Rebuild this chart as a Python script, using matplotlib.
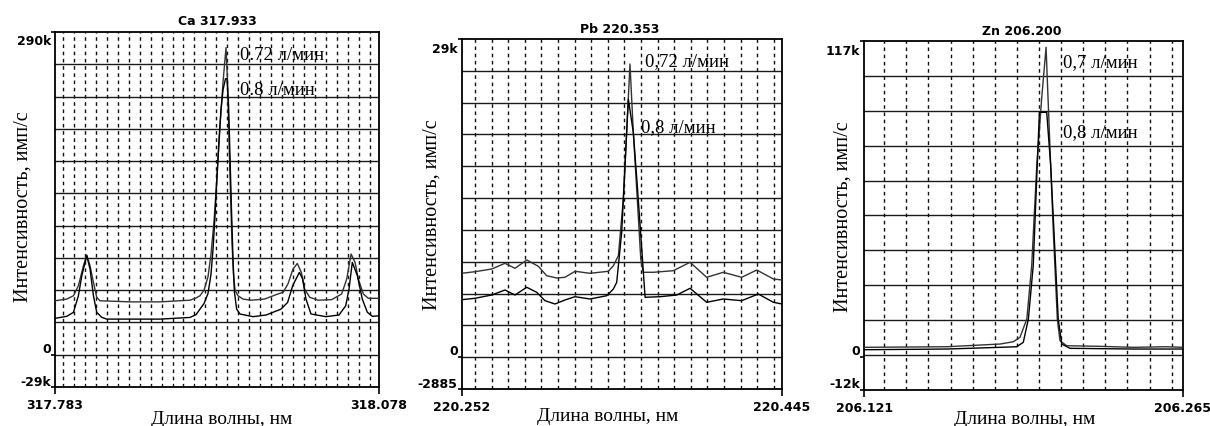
import numpy as np
import matplotlib
matplotlib.use("Agg")
import matplotlib.pyplot as plt
from matplotlib.transforms import offset_copy

# ---------------- data ----------------
# Ca 317.933
ca_wl_072 = [317.783, 317.7937, 317.7998, 317.8043, 317.8089, 317.8119, 317.8149, 317.8180, 317.8210,
             317.8240, 317.8513, 317.8786, 317.9059, 317.9114, 317.9150, 317.9187, 317.9223, 317.9250,
             317.9278, 317.9305, 317.9332, 317.9360, 317.9387, 317.9401, 317.9414, 317.9428, 317.9442,
             317.9455, 317.9469, 317.9496, 317.9542, 317.9614, 317.9737, 317.9860, 317.9906, 317.9951,
             317.9997, 318.0036, 318.0073, 318.0103, 318.0149, 318.0227, 318.0349, 318.0440, 318.0486,
             318.0526, 318.0562, 318.0592, 318.0637, 318.0683, 318.0758, 318.078]
ca_int_072 = [48500, 50000, 53000, 62000, 80000, 89600, 80000, 65000, 51600,
              48500, 47500, 47500, 49000, 51000, 53000, 58000, 70000, 90000,
              120000, 160000, 205000, 245000, 276000, 245000, 195000, 145000, 100000,
              72000, 58000, 53000, 50000, 49000, 50000, 54600, 56000, 63600,
              77000, 82000, 74000, 59000, 51600, 49000, 49500, 54600, 68000,
              90500, 83000, 68000, 54600, 50700, 50700, 50700]

ca_wl_08 = [317.783, 317.7937, 317.7998, 317.8043, 317.8074, 317.8119, 317.8149, 317.8180, 317.8210,
            317.8256, 317.8301, 317.8513, 317.8786, 317.9059, 317.9114, 317.9150, 317.9187, 317.9223,
            317.9250, 317.9269, 317.9287, 317.9305, 317.9323, 317.9341, 317.9360, 317.9382, 317.9396,
            317.9410, 317.9423, 317.9437, 317.9451, 317.9464, 317.9484, 317.9514, 317.9633, 317.9753,
            317.9888, 317.9948, 317.9994, 318.0055, 318.0085, 318.0115, 318.0161, 318.0297, 318.0416,
            318.0477, 318.0507, 318.0537, 318.0583, 318.0628, 318.0674, 318.0720, 318.078]
ca_int_08 = [32700, 34500, 38100, 53000, 71000, 89000, 77000, 53000, 38100,
             33600, 32000, 32000, 32000, 33500, 36000, 41000, 46000, 55000,
             72000, 95000, 125000, 160000, 192000, 220000, 238000, 248000, 248000,
             225000, 180000, 130000, 85000, 56000, 41000, 36600, 34200, 35700,
             41000, 47000, 62000, 74000, 68000, 50000, 36600, 34200, 35700,
             44000, 59000, 83000, 71000, 50000, 38100, 34500, 35000]

# Pb 220.353
pb_wl_072 = [220.252, 220.2600, 220.2701, 220.2781, 220.2841, 220.2912, 220.2982, 220.3032, 220.3092,
             220.3142, 220.3203, 220.3293, 220.3403, 220.3434, 220.3464, 220.3494, 220.3514, 220.3534,
             220.3554, 220.3578, 220.3599, 220.3614, 220.3675, 220.3795, 220.3896, 220.3996, 220.4096,
             220.4207, 220.4298, 220.4398, 220.445]
pb_int_072 = [7606, 7751, 7996, 8513, 8059, 8812, 8240, 7388, 7180,
              7243, 7787, 7606, 7787, 8295, 9202, 14343, 20418, 26583,
              20418, 14343, 8903, 7697, 7697, 7842, 8603, 7243, 7697,
              7243, 7905, 7089, 6999]

pb_wl_08 = [220.252, 220.2600, 220.2701, 220.2781, 220.2841, 220.2912, 220.2972, 220.3022, 220.3082,
            220.3142, 220.3203, 220.3293, 220.3394, 220.3434, 220.3454, 220.3484, 220.3504, 220.3524,
            220.3554, 220.3578, 220.3605, 220.3625, 220.3715, 220.3816, 220.3896, 220.3996, 220.4096,
            220.4207, 220.4307, 220.4398, 220.445]
pb_int_08 = [5212, 5339, 5638, 6092, 5638, 6337, 5883, 5122, 4822,
             5185, 5484, 5276, 5575, 6182, 6790, 11323, 17362, 23410,
             20390, 15549, 9809, 5430, 5484, 5638, 6246, 4977, 5276,
             5122, 5729, 4977, 4822]

# Zn 206.200
zn_wl_07 = [206.121, 206.1583, 206.1673, 206.1824, 206.1884, 206.1914, 206.1945, 206.1967, 206.1990,
            206.2012, 206.2032, 206.2047, 206.2065, 206.2083, 206.2095, 206.2125, 206.2274, 206.2427,
            206.2578, 206.265]
zn_int_07 = [3690, 3910, 4280, 4910, 5760, 7390, 14170, 33900, 70930,
             95630, 114780, 83300, 46270, 14170, 6130, 4280, 4060, 3690,
             3910, 3690]

zn_wl_08 = [206.121, 206.1583, 206.1824, 206.1899, 206.1929, 206.1952, 206.1974, 206.1992, 206.2002,
            206.2035, 206.2053, 206.2068, 206.2087, 206.2103, 206.2140, 206.2427, 206.265]
zn_int_08 = [2800, 3060, 3690, 3910, 5540, 14170, 33900, 70930, 90710,
             90710, 70930, 46270, 14170, 4910, 3320, 3060, 3060]

panels = [
    dict(title="Ca 317.933", xlim=(317.783, 318.078), ylim=(-29000, 290000), nrows=11,
         xgrid_start=317.79, xgrid_stop=318.07,
         xticklabels=["317.783", "318.078"], yticklabels=["-29k", "0", "290k"],
         s1=(ca_wl_072, ca_int_072), s2=(ca_wl_08, ca_int_08),
         lab1="0.72 л/мин", lab2="0.8 л/мин",
         lab1_pos=(0.571, 0.938), lab2_pos=(0.571, 0.837),
         rect=(0.04545, 0.09133, 0.26777, 0.8314),
         ylab_pos=(-0.099, 0.511), xlab_pos=(0.514, -0.101), title_pos=(0.5, 1.031)),
    dict(title="Pb 220.353", xlim=(220.252, 220.445), ylim=(-2885, 28850), nrows=11,
         xgrid_start=220.26, xgrid_stop=220.44,
         xticklabels=["220.252", "220.445"], yticklabels=["-2885", "0", "29k"],
         s1=(pb_wl_072, pb_int_072), s2=(pb_wl_08, pb_int_08),
         lab1="0,72 л/мин", lab2="0,8 л/мин",
         lab1_pos=(0.572, 0.937), lab2_pos=(0.560, 0.751),
         rect=(0.38157, 0.08665, 0.26471, 0.81967),
         ylab_pos=(-0.094, 0.5), xlab_pos=(0.457, -0.088), title_pos=(0.494, 1.031)),
    dict(title="Zn 206.200", xlim=(206.121, 206.265), ylim=(-12000, 117000), nrows=10,
         xgrid_start=206.13, xgrid_stop=206.26,
         xticklabels=["206.121", "206.265"], yticklabels=["-12k", "0", "117k"],
         s1=(zn_wl_07, zn_int_07), s2=(zn_wl_08, zn_int_08),
         lab1="0,7 л/мин", lab2="0,8 л/мин",
         lab1_pos=(0.624, 0.943), lab2_pos=(0.624, 0.740),
         rect=(0.71430, 0.08501, 0.26314, 0.81593),
         ylab_pos=(-0.067, 0.499), xlab_pos=(0.503, -0.096), title_pos=(0.495, 1.030)),
]

SERIF = "Liberation Serif"
SANS = "DejaVu Sans"
DPI = 100

fig = plt.figure(figsize=(12.1, 4.27), dpi=DPI)
fig.patch.set_facecolor("white")

for p in panels:
    ax = fig.add_axes(p["rect"])
    x0, x1 = p["xlim"]
    y0, y1 = p["ylim"]
    ax.set_xlim(x0, x1)
    ax.set_ylim(y0, y1)

    # solid horizontal grid, equal divisions of the intensity range
    for yv in np.linspace(y0, y1, p["nrows"] + 1)[1:-1]:
        ax.axhline(yv, color="#1a1a1a", lw=1.0, zorder=1)
    # dashed vertical grid every 0.01 nm
    n_v = int(round((p["xgrid_stop"] - p["xgrid_start"]) / 0.01)) + 1
    for xv in p["xgrid_start"] + 0.01 * np.arange(n_v):
        ax.axvline(xv, color="#111111", lw=1.0, ls=(0, (2.6, 2.6)), zorder=1)

    ax.plot(*p["s1"], color="#333333", lw=1.0, zorder=3)
    ax.plot(*p["s2"], color="#000000", lw=1.0, zorder=3)

    for s in ax.spines.values():
        s.set_color("black")
        s.set_linewidth(1.3)

    # y axis: tick marks at min, 0 and max; labels drawn as text
    ax.set_yticks([y0, 0, y1])
    ax.set_yticklabels([])
    ax.tick_params(axis="y", length=3, width=1.2, direction="out")
    ytr = ax.get_yaxis_transform()
    lab_kw = dict(ha="right", va="center", fontfamily=SANS, fontweight="bold", fontsize=9)
    for val, txt, dy in zip([y0, 0, y1], p["yticklabels"], [6, 6.5, -9]):
        tr = offset_copy(ytr, fig=fig, x=-4, y=dy, units="dots")
        ax.text(0, val, txt, transform=tr, **lab_kw)

    ax.set_xticks([x0, x1])
    ax.set_xticklabels(p["xticklabels"], fontfamily=SANS, fontweight="bold", fontsize=9)
    ax.tick_params(axis="x", length=5, width=1.2, pad=3, direction="out")

    ax.text(*p["title_pos"], p["title"], transform=ax.transAxes, ha="center", va="center",
            fontfamily=SANS, fontweight="bold", fontsize=9)
    ax.text(*p["ylab_pos"], "Интенсивность, имп/с", transform=ax.transAxes, rotation=90,
            ha="center", va="center", fontfamily=SERIF, fontsize=14.5)
    ax.text(*p["xlab_pos"], "Длина волны, нм", transform=ax.transAxes,
            ha="center", va="baseline", fontfamily=SERIF, fontsize=14)
    ax.text(*p["lab1_pos"], p["lab1"], transform=ax.transAxes, ha="left", va="center",
            fontfamily=SERIF, fontsize=13.5, zorder=5)
    ax.text(*p["lab2_pos"], p["lab2"], transform=ax.transAxes, ha="left", va="center",
            fontfamily=SERIF, fontsize=13.5, zorder=5)

fig.savefig("out.png", dpi=DPI, facecolor="white")
